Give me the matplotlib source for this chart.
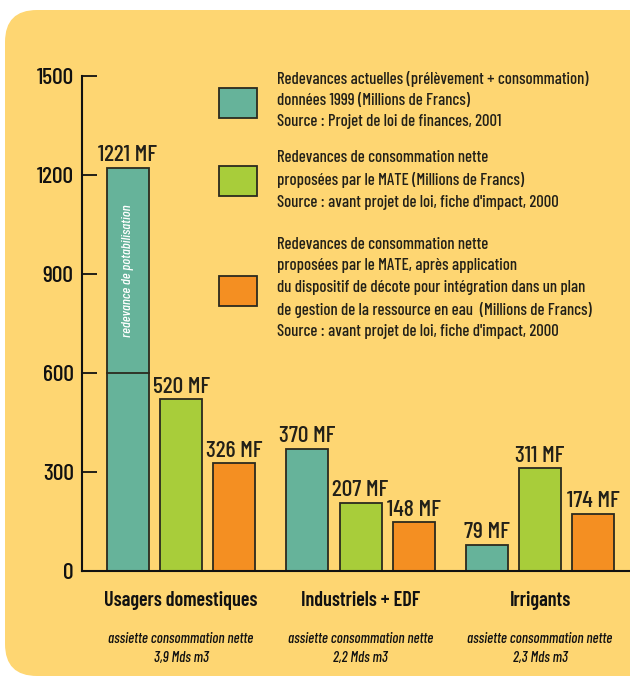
import numpy as np
import matplotlib.pyplot as plt
from matplotlib.patches import FancyBboxPatch
from matplotlib import font_manager

# data
groups = ["Usagers domestiques", "Industriels + EDF", "Irrigants"]
assiette = ["assiette consommation nette\n3,9 Mds m3",
            "assiette consommation nette\n2,2 Mds m3",
            "assiette consommation nette\n2,3 Mds m3"]
actuelles = [1221, 370, 79]
mate = [520, 207, 311]
decote = [326, 148, 174]
potabilisation = 600
yticks = [0, 300, 600, 900, 1200, 1500]

legend_texts = [
    "Redevances actuelles (prélèvement + consommation)\n"
    "données 1999 (Millions de Francs)\n"
    "Source : Projet de loi de finances, 2001",
    "Redevances de consommation nette\n"
    "proposées par le MATE (Millions de Francs)\n"
    "Source : avant projet de loi, fiche d'impact, 2000",
    "Redevances de consommation nette\n"
    "proposées par le MATE, après application\n"
    "du dispositif de décote pour intégration dans un plan\n"
    "de gestion de la ressource en eau  (Millions de Francs)\n"
    "Source : avant projet de loi, fiche d'impact, 2000",
]

colors = ["#66B39A", "#A8CD3A", "#F48F22"]
panel_col = "#FED672"
edge = "#2b2a1e"
ink = "#222018"

# a condensed face, close to the Futura Condensed of the original
names = set(f.name for f in font_manager.fontManager.ttflist)
FONT = "DejaVu Sans"
for cand in ["Barlow Condensed", "Roboto Condensed", "Fira Sans Condensed",
             "PT Sans Narrow", "Archivo Narrow", "Liberation Sans Narrow"]:
    if cand in names:
        FONT = cand
        break
plt.rcParams["font.family"] = [FONT, "DejaVu Sans"]
plt.rcParams["font.weight"] = 500

W, H = 630, 677
fig = plt.figure(figsize=(W / 100, H / 100), dpi=100)
fig.patch.set_facecolor("white")

# background panel, in pixel units
bg = fig.add_axes([0, 0, 1, 1])
bg.set_xlim(0, W)
bg.set_ylim(H, 0)
bg.axis("off")
bg.add_patch(FancyBboxPatch((5, 10), 700, 666, boxstyle="round,pad=0,rounding_size=32",
                            facecolor=panel_col, edgecolor="none"))

# legend
sq_y = [103, 181, 291]
txt_y = [100, 180, 288]
for c, t, sy, ty in zip(colors, legend_texts, sq_y, txt_y):
    bg.add_patch(plt.Rectangle((219, sy - 15), 38, 30, facecolor=c, edgecolor=edge, lw=1.3))
    bg.text(277, ty, t, fontsize=12, va="center", ha="left", color=ink,
            linespacing=1.54)

# chart
x0, x1, y0, y1 = 82, 630, 571, 76
ax = fig.add_axes([x0 / W, (H - y0) / H, (x1 - x0) / W, (y0 - y1) / H])
ax.set_facecolor("none")
x = np.arange(len(groups))
off = 0.296
bw = 0.234
ax.set_xlim(-0.552, 2.501)
ax.set_ylim(0, 1500)

for i, (vals, c) in enumerate(zip([actuelles, mate, decote], colors)):
    pos = x + (i - 1) * off
    ax.bar(pos, vals, bw, color=c, edgecolor=edge, lw=1.3, zorder=2)
    for p, v in zip(pos, vals):
        ax.text(p, v + 8, f"{v} MF", ha="center", va="bottom", fontsize=17, color=ink)

# potabilisation split in the first bar
ax.plot([x[0] - off - bw / 2, x[0] - off + bw / 2], [potabilisation] * 2,
        color=edge, lw=1.3, zorder=3)
ax.text(x[0] - off, (potabilisation + actuelles[0]) / 2, "redevance de potabilisation",
        rotation=90, ha="center", va="center", color="white", style="italic",
        fontsize=10.2, zorder=4)

for s in ["top", "right"]:
    ax.spines[s].set_visible(False)
ax.spines["left"].set_linewidth(1.5)
ax.spines["bottom"].set_linewidth(1.5)
ax.spines["left"].set_color("#111")
ax.spines["bottom"].set_color("#111")
ax.set_yticks(yticks)
ax.tick_params(axis="y", direction="in", length=11, width=1.3, labelsize=17, pad=6,
               colors="#111")
ax.set_xticks([])

for xi, g, a in zip(x, groups, assiette):
    ax.annotate(g, (xi, 0), xytext=(0, -29), textcoords="offset pixels",
                ha="center", va="center", fontsize=14.5, fontweight=600, color="#111")
    ax.annotate(a, (xi, 0), xytext=(0, -77.5), textcoords="offset pixels",
                ha="center", va="center", fontsize=10.6, style="italic",
                color="#111", linespacing=1.45)

fig.savefig("out.png", dpi=100, facecolor=fig.get_facecolor())
